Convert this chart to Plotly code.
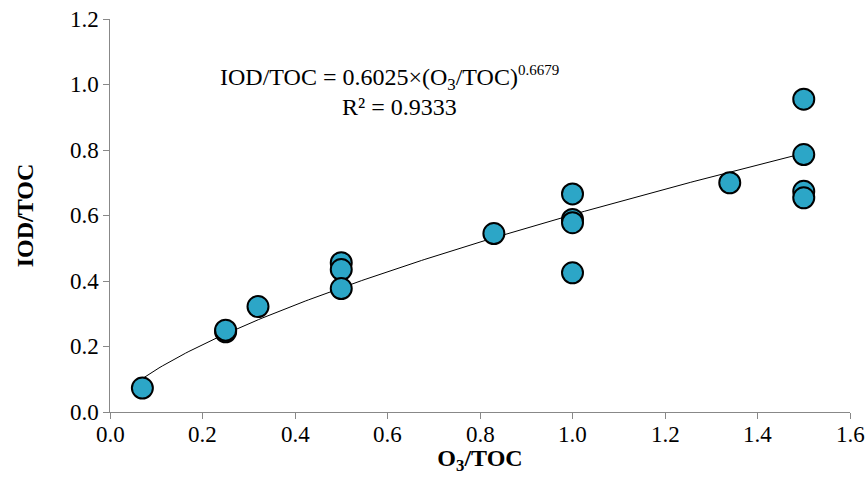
import numpy as np
import plotly.graph_objects as go

o3_toc = [0.07, 0.25, 0.25, 0.32, 0.50, 0.50, 0.50, 0.83, 1.00, 1.00, 1.00, 1.00, 1.34, 1.50, 1.50, 1.50, 1.50]
iod_toc = [0.073, 0.245, 0.250, 0.322, 0.456, 0.435, 0.377, 0.545, 0.666, 0.588, 0.578, 0.425, 0.700, 0.955, 0.786, 0.674, 0.654]
fit_a = 0.6025
fit_b = 0.6679
x_ticks = [0.0, 0.2, 0.4, 0.6, 0.8, 1.0, 1.2, 1.4, 1.6]
y_ticks = [0.0, 0.2, 0.4, 0.6, 0.8, 1.0, 1.2]

xf = np.linspace(min(o3_toc), max(o3_toc), 200)
yf = fit_a * xf ** fit_b

font = "Liberation Serif"
tf = dict(family=font, size=23, color="black")
fig = go.Figure()
fig.add_trace(go.Scatter(x=xf, y=yf, mode="lines", line=dict(color="black", width=1), hoverinfo="skip", showlegend=False))
fig.add_trace(go.Scatter(x=o3_toc, y=iod_toc, mode="markers",
                         marker=dict(size=21, color="#2CA6C7", line=dict(color="black", width=2)),
                         showlegend=False))

fig.add_annotation(x=0.605, y=1.02, xref="x", yref="y",
                   text="IOD/TOC = 0.6025×(O<sub>3</sub>/TOC)<sup><span style='font-size:15px'>0.6679</span></sup>",
                   showarrow=False, font=dict(family=font, size=24, color="black"))
fig.add_annotation(x=0.625, y=0.93, xref="x", yref="y",
                   text="R² = 0.9333",
                   showarrow=False, font=dict(family=font, size=24, color="black"))

# tick labels as serif text placed at the axis tick values
for v in x_ticks:
    fig.add_annotation(x=v, y=0, xref="x", yref="paper", text=f"{v:.1f}", showarrow=False,
                       yanchor="top", yshift=-8, font=tf)
for v in y_ticks:
    fig.add_annotation(x=0, y=v, xref="paper", yref="y", text=f"{v:.1f}", showarrow=False,
                       xanchor="right", xshift=-9, font=tf)

fig.update_layout(
    width=868, height=494, margin=dict(l=110, r=18, t=19, b=82),
    font=dict(family=font, size=23, color="black"),
    plot_bgcolor="white", paper_bgcolor="white",
    xaxis=dict(range=[0, 1.6], tickmode="array", tickvals=x_ticks, showticklabels=False,
               showgrid=False, zeroline=False, showline=True, linecolor="#888888", linewidth=1,
               ticks="outside", tickcolor="#888888", ticklen=6, tickwidth=1,
               title=dict(text="<b>O<sub>3</sub>/TOC</b>", font=dict(family=font, size=24, color="black"), standoff=31)),
    yaxis=dict(range=[0, 1.2], tickmode="array", tickvals=y_ticks, showticklabels=False,
               showgrid=False, zeroline=False, showline=True, linecolor="#888888", linewidth=1,
               ticks="outside", tickcolor="#888888", ticklen=6, tickwidth=1,
               title=dict(text="<b>IOD/TOC</b>", font=dict(family=font, size=24, color="black"), standoff=62)),
)
fig.write_html("out.html")
